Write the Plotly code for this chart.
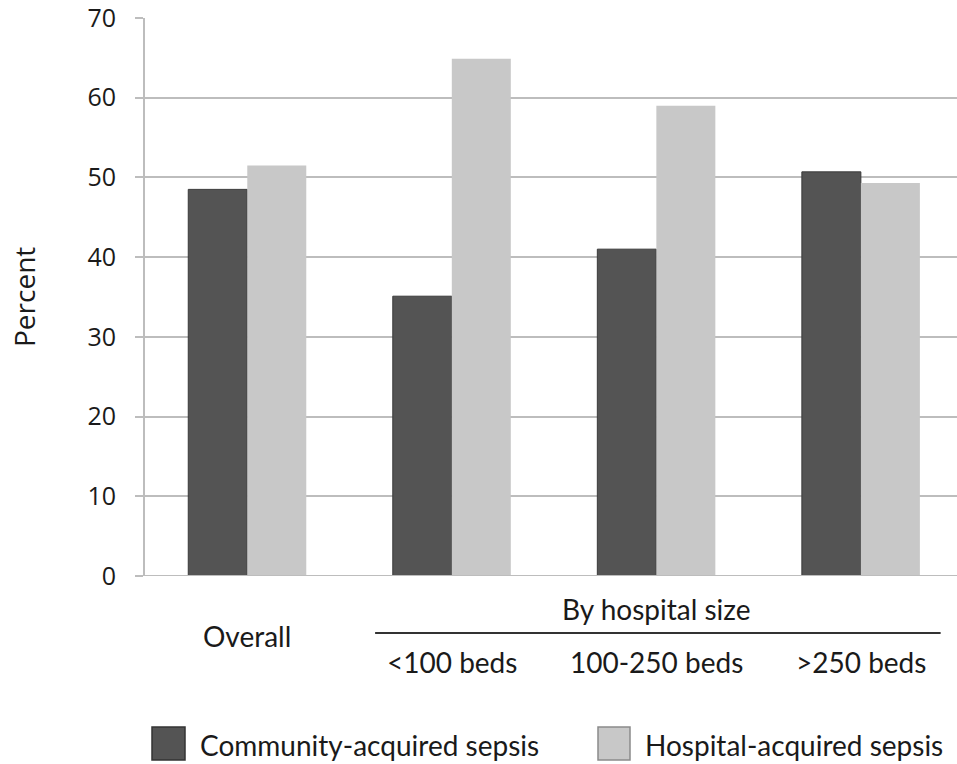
import plotly.graph_objects as go

# Sepsis share by onset setting, overall and by hospital size
groups = ["Overall", "<100 beds", "100-250 beds", ">250 beds"]
community = [48.5, 35.1, 41.0, 50.7]
hospital = [51.5, 64.9, 59.0, 49.3]
series_names = ["Community-acquired sepsis", "Hospital-acquired sepsis"]
y_ticks = [0, 10, 20, 30, 40, 50, 60, 70]

DARK = "#545454"
LIGHT = "#c8c8c8"
GRID = "#bdbdbd"
TEXT = "#1a1a1a"
LABEL_FONT = "Lato, Roboto, sans-serif"
TICK_FONT = "Open Sans, DejaVu Sans, sans-serif"
LABEL_SIZE = 28

x_idx = list(range(len(groups)))

fig = go.Figure()
fig.add_trace(go.Bar(x=x_idx, y=community, name=series_names[0],
                     marker=dict(color=DARK, line=dict(color="#3a3a3a", width=1))))
fig.add_trace(go.Bar(x=x_idx, y=hospital, name=series_names[1],
                     marker=dict(color=LIGHT, line=dict(color=LIGHT, width=0))))

W, H = 957, 764
L, R, T, B = 145, 0, 18, 188

fig.update_layout(
    width=W, height=H,
    margin=dict(l=L, r=R, t=T, b=B),
    paper_bgcolor="white", plot_bgcolor="white",
    barmode="group", bargap=0.423, bargroupgap=0,
    showlegend=False,
    font=dict(family=TICK_FONT, color=TEXT),
)
fig.update_xaxes(
    range=[-0.5, 3.47], showticklabels=False, showgrid=False,
    zeroline=False, showline=False, ticks="",
)
fig.update_yaxes(
    range=[0, 70], tickvals=y_ticks, showgrid=True, gridcolor=GRID, gridwidth=1.8,
    zeroline=False, showline=True, linecolor=GRID, linewidth=1.8,
    ticks="outside", ticklen=8, tickcolor=GRID, tickwidth=1.8,
    tickfont=dict(size=25, color=TEXT, family=TICK_FONT),
    ticklabelstandoff=14, ticklabeloverflow="allow",
)

# Baseline along zero
fig.add_shape(type="line", xref="paper", yref="y", x0=0, x1=1, y0=0, y1=0,
              line=dict(color=GRID, width=1.8))

plot_w = W - L - R
plot_h = H - T - B


def px(pix):
    # pixel column -> paper x
    return (pix - L) / plot_w


def py(pix):
    # pixel row -> paper y
    return (H - B - pix) / plot_h


def label(x, y, text, xref="x", xanchor="center", size=LABEL_SIZE, family=LABEL_FONT, angle=0):
    fig.add_annotation(x=x, y=y, xref=xref, yref="paper", text=text, showarrow=False,
                       xanchor=xanchor, yanchor="middle", textangle=angle,
                       font=dict(size=size, family=family, color=TEXT))


# Axis title
label(px(24), py(297), "Percent", xref="paper", size=28, family=TICK_FONT, angle=-90)

# Category labels
label(0, py(636), groups[0])
for i in range(1, len(groups)):
    label(i, py(662), groups[i])
label(2, py(609), "By hospital size")
fig.add_shape(type="line", xref="x", yref="paper", x0=0.625, x1=3.39,
              y0=py(633), y1=py(633), line=dict(color="#333333", width=1.8))

# Legend keys
legend_items = [(152, 185, DARK, "#333333", 198, series_names[0]),
                (598, 630, LIGHT, "#8a8a8a", 643, series_names[1])]
for x0, x1, fill, edge, tx, name in legend_items:
    fig.add_shape(type="rect", xref="paper", yref="paper",
                  x0=px(x0), x1=px(x1), y0=py(760), y1=py(727),
                  fillcolor=fill, line=dict(color=edge, width=1.5))
    label(px(tx), py(745), name, xref="paper", xanchor="left")

fig.write_html("out.html")
